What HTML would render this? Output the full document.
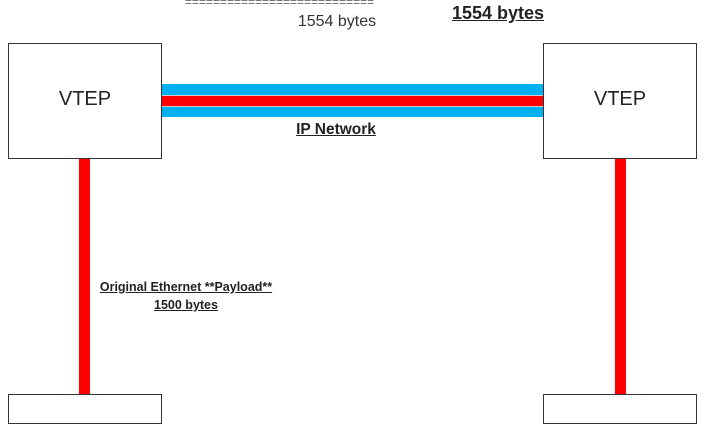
<!DOCTYPE html>
<html><head><meta charset="utf-8"><style>
body{margin:0;width:708px;height:400px;overflow:hidden;background:#fff;position:relative;font-family:"Liberation Sans",sans-serif}
div{position:absolute;box-sizing:border-box}
.box{border:1.5px solid #333;background:#fff}
.t{color:#222;white-space:nowrap;text-align:center}
</style></head><body>
<div class="box" style="left:8px;top:43px;width:154px;height:116px"></div>
<div class="box" style="left:543px;top:43px;width:154px;height:116px"></div>
<div class="box" style="left:8px;top:394px;width:154px;height:30px"></div>
<div class="box" style="left:543px;top:394px;width:154px;height:30px"></div>
<div style="left:162px;top:84px;width:381px;height:33px;background:#00b0f0"></div>
<div style="left:162px;top:95px;width:381px;height:12px;background:#ccc"></div>
<div style="left:162px;top:96px;width:381px;height:10px;background:#ff0000"></div>
<div style="left:79px;top:159px;width:11px;height:235px;background:#ff0000"></div>
<div style="left:615px;top:159px;width:11px;height:235px;background:#ff0000"></div>
<div class="t" style="left:8px;top:88px;width:154px;font-size:20px">VTEP</div>
<div class="t" style="left:543px;top:88px;width:154px;font-size:20px">VTEP</div>
<div class="t" style="left:180px;top:-4px;width:199px;font-size:12px;line-height:12px;color:#666">===========================</div>
<div class="t" style="left:287px;top:13px;width:100px;font-size:16px;color:#333">1554 bytes</div>
<div class="t" style="left:440px;top:3px;width:116px;font-size:18px;font-weight:bold;text-decoration:underline">1554 bytes</div>
<div class="t" style="left:286px;top:121px;width:100px;font-size:15.5px;font-weight:bold;text-decoration:underline">IP Network</div>
<div class="t" style="left:76px;top:278px;width:220px;font-size:12.5px;font-weight:bold;text-decoration:underline;line-height:18px">Original Ethernet **Payload**<br>1500 bytes</div>
</body></html>
